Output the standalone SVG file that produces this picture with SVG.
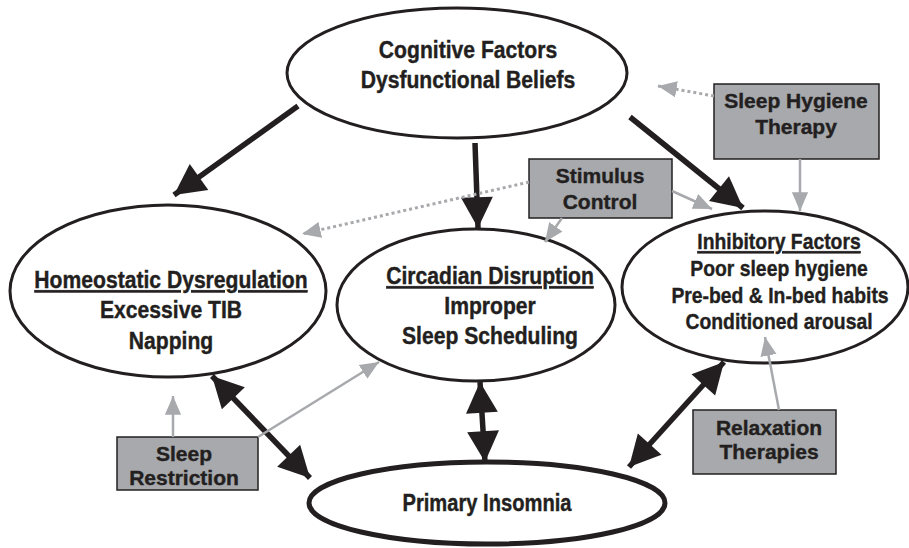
<svg xmlns="http://www.w3.org/2000/svg" width="909" height="548" viewBox="0 0 909 548">
<defs>
<style>
text{font-family:"Liberation Sans",Arial,sans-serif;font-weight:bold;font-size:24px;fill:#231f20;stroke:#231f20;stroke-width:0.4;text-anchor:middle}
.b{font-size:21px}
.s{font-size:22px}
.ell{fill:#fff;stroke:#231f20;stroke-width:3}
.box{fill:#a7a9ac;stroke:#231f20;stroke-width:1.5}
.thick{stroke:#231f20;stroke-width:5.5;fill:none}
.gray{stroke:#a7a9ac;stroke-width:2.5;fill:none}
.dot{stroke:#a7a9ac;stroke-width:3;fill:none;stroke-dasharray:3 3}
.u{text-decoration:underline}
</style>
<marker id="big" markerUnits="userSpaceOnUse" markerWidth="34" markerHeight="34" viewBox="0 0 30 32" refX="29" refY="16" orient="auto-start-reverse">
<path d="M0,1 L29,16 L0,31 Z" fill="#231f20"/>
</marker>
<marker id="sm" markerUnits="userSpaceOnUse" markerWidth="20" markerHeight="20" viewBox="0 0 16 16" refX="15" refY="8" orient="auto">
<path d="M0,1.5 L15,8 L0,14.5 Z" fill="#a7a9ac"/>
</marker>
</defs>

<g id="cognitive">
<ellipse class="ell" cx="457" cy="73" rx="170" ry="65"/>
<text transform="translate(468,58) scale(0.88,1)">Cognitive Factors</text>
<text transform="translate(468,88) scale(0.88,1)">Dysfunctional Beliefs</text>
</g>

<g id="homeostatic">
<ellipse class="ell" cx="168" cy="291" rx="158" ry="86"/>
<text class="u" transform="translate(171,288) scale(0.88,1)">Homeostatic Dysregulation</text>
<text transform="translate(171,318) scale(0.88,1)">Excessive TIB</text>
<text transform="translate(171,349) scale(0.88,1)">Napping</text>
</g>

<g id="circadian">
<ellipse class="ell" cx="476" cy="305" rx="139" ry="76"/>
<text class="u" transform="translate(490,284) scale(0.88,1)">Circadian Disruption</text>
<text transform="translate(490,314) scale(0.88,1)">Improper</text>
<text transform="translate(490,344) scale(0.88,1)">Sleep Scheduling</text>
</g>

<g id="inhibitory">
<ellipse class="ell" cx="765" cy="287" rx="143" ry="76"/>
<text class="u s" transform="translate(779,249) scale(0.88,1)">Inhibitory Factors</text>
<text class="s" transform="translate(779,276) scale(0.88,1)">Poor sleep hygiene</text>
<text class="s" transform="translate(780,303) scale(0.88,1)">Pre-bed &amp; In-bed habits</text>
<text class="s" transform="translate(779,329) scale(0.88,1)">Conditioned arousal</text>
</g>

<g id="primary">
<ellipse class="ell" cx="487" cy="503" rx="178" ry="41" style="stroke-width:5"/>
<text transform="translate(487,511) scale(0.84,1)">Primary Insomnia</text>
</g>

<g id="sleep-hygiene">
<rect class="box" x="714" y="84" width="165" height="75"/>
<text class="b" x="796" y="108">Sleep Hygiene</text>
<text class="b" x="796" y="134">Therapy</text>
</g>

<g id="stimulus-control">
<rect class="box" x="529" y="159" width="143" height="59"/>
<text class="b" x="600" y="183">Stimulus</text>
<text class="b" x="600" y="209">Control</text>
</g>

<g id="sleep-restriction">
<rect class="box" x="117" y="437" width="141" height="53"/>
<text class="b" x="184" y="461">Sleep</text>
<text class="b" x="184" y="485">Restriction</text>
</g>

<g id="relaxation">
<rect class="box" x="693" y="410" width="143" height="64"/>
<text class="b" x="769" y="435">Relaxation</text>
<text class="b" x="769" y="459">Therapies</text>
</g>

<g id="connectors">
<line class="thick" x1="298" y1="106" x2="174" y2="195" marker-end="url(#big)"/>
<line class="thick" x1="475" y1="143" x2="478" y2="228" marker-end="url(#big)"/>
<line class="thick" x1="630" y1="117" x2="743" y2="208" marker-end="url(#big)"/>
<line class="thick" x1="212" y1="376" x2="310" y2="478" marker-start="url(#big)" marker-end="url(#big)"/>
<line class="thick" x1="480" y1="382" x2="485" y2="462" marker-start="url(#big)" marker-end="url(#big)"/>
<line class="thick" x1="724" y1="362" x2="629" y2="467" marker-start="url(#big)" marker-end="url(#big)"/>
<line class="dot" x1="714" y1="96" x2="658" y2="86" marker-end="url(#sm)"/>
<line class="gray" x1="800" y1="159" x2="800" y2="211" marker-end="url(#sm)"/>
<line class="gray" x1="672" y1="191" x2="712" y2="209" marker-end="url(#sm)"/>
<line class="gray" x1="562" y1="218" x2="545" y2="242" marker-end="url(#sm)"/>
<line class="dot" x1="529" y1="182" x2="302" y2="234" marker-end="url(#sm)"/>
<line class="gray" x1="173" y1="437" x2="173" y2="396" marker-end="url(#sm)"/>
<line class="gray" x1="258" y1="437" x2="379" y2="362" marker-end="url(#sm)"/>
<line class="gray" x1="779" y1="410" x2="765" y2="337" marker-end="url(#sm)"/>
</g>
</svg>
